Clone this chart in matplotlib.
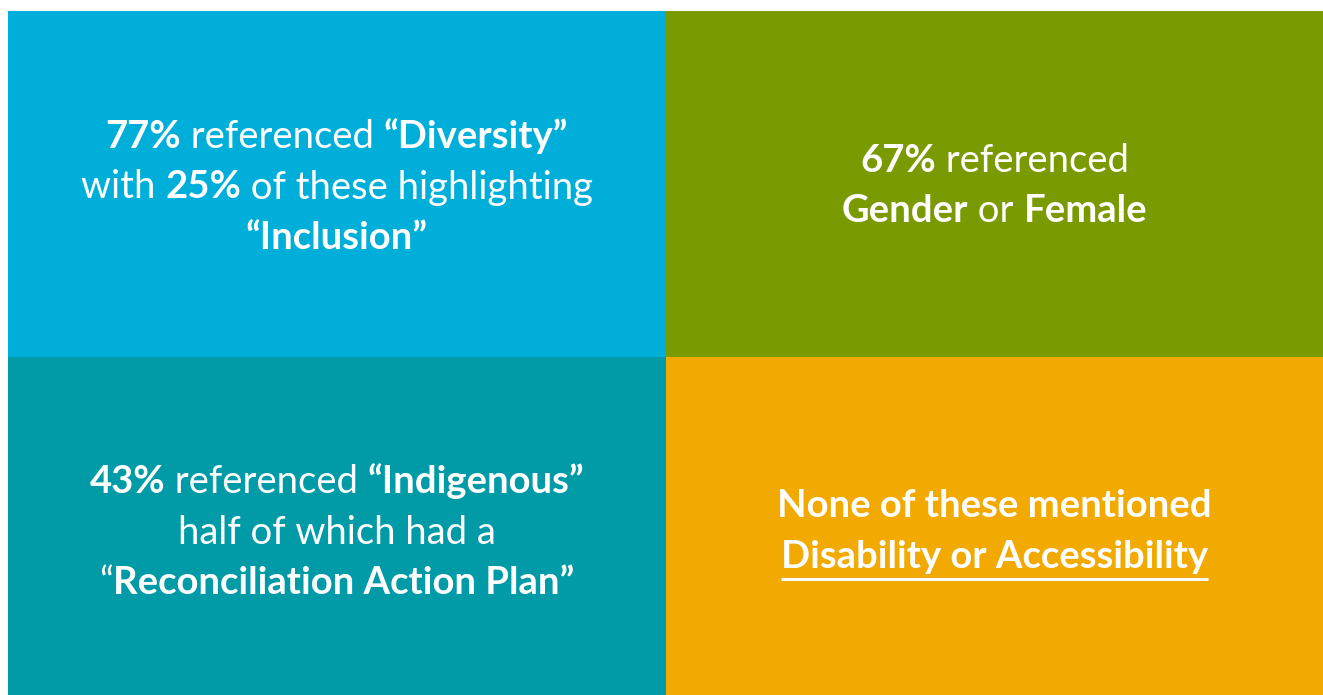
import matplotlib
matplotlib.use('Agg')
from matplotlib import pyplot as plt
from matplotlib.patches import Rectangle

W, H = 1323, 695
FONT = 'Lato'
SIZE = 27.5

# tile edges (pixels) and colours
col_edges = [8, 666, 1323]
row_edges = [11, 357, 695]
tile_colors = [['#00AEDA', '#7A9A01'],
               ['#009BA6', '#F2A900']]

# text of each tile: lines of (text, bold, underline) pieces
tl_lines = [
    [('77%', True, False), (' referenced ', False, False), ('\u201cDiversity\u201d', True, False)],
    [('with ', False, False), ('25%', True, False), (' of these highlighting', False, False)],
    [('\u201cInclusion\u201d', True, False)],
]
tr_lines = [
    [('67%', True, False), (' referenced', False, False)],
    [('Gender', True, False), (' or ', False, False), ('Female', True, False)],
]
bl_lines = [
    [('43%', True, False), (' referenced ', False, False), ('\u201cIndigenous\u201d', True, False)],
    [('half of which had a', False, False)],
    [('\u201c', False, False), ('Reconciliation Action Plan\u201d', True, False)],
]
br_lines = [
    [('None of these mentioned', True, False)],
    [('Disability or Accessibility', True, True)],
]
tile_text = [[tl_lines, tr_lines], [bl_lines, br_lines]]
first_baseline = [[148, 172], [493, 517]]
LINE_STEP = 50.5

fig = plt.figure(figsize=(W / 100, H / 100), dpi=100)
ax = fig.add_axes([0, 0, 1, 1])
ax.set_xlim(0, W)
ax.set_ylim(H, 0)
ax.axis('off')
renderer = fig.canvas.get_renderer()


def draw_line(pieces, cx, y):
    texts = []
    for s, bold, under in pieces:
        t = ax.text(0, y, s, color='white', fontsize=SIZE, family=FONT,
                    fontweight='bold' if bold else 'normal', va='baseline', ha='left')
        texts.append((t, under))
    widths = [t.get_window_extent(renderer).width for t, _ in texts]
    x = cx - sum(widths) / 2
    for (t, under), w in zip(texts, widths):
        t.set_x(x)
        if under:
            ax.plot([x, x + w], [y + 11, y + 11], color='white', lw=2.2, solid_capstyle='butt')
        x += w


for r in range(2):
    for c in range(2):
        x0, x1 = col_edges[c], col_edges[c + 1]
        y0, y1 = row_edges[r], row_edges[r + 1]
        ax.add_patch(Rectangle((x0, y0), x1 - x0, y1 - y0, color=tile_colors[r][c], lw=0))
        cx = (x0 + x1) / 2
        for i, line in enumerate(tile_text[r][c]):
            draw_line(line, cx, first_baseline[r][c] + i * LINE_STEP)

fig.savefig('out.png', dpi=100)
